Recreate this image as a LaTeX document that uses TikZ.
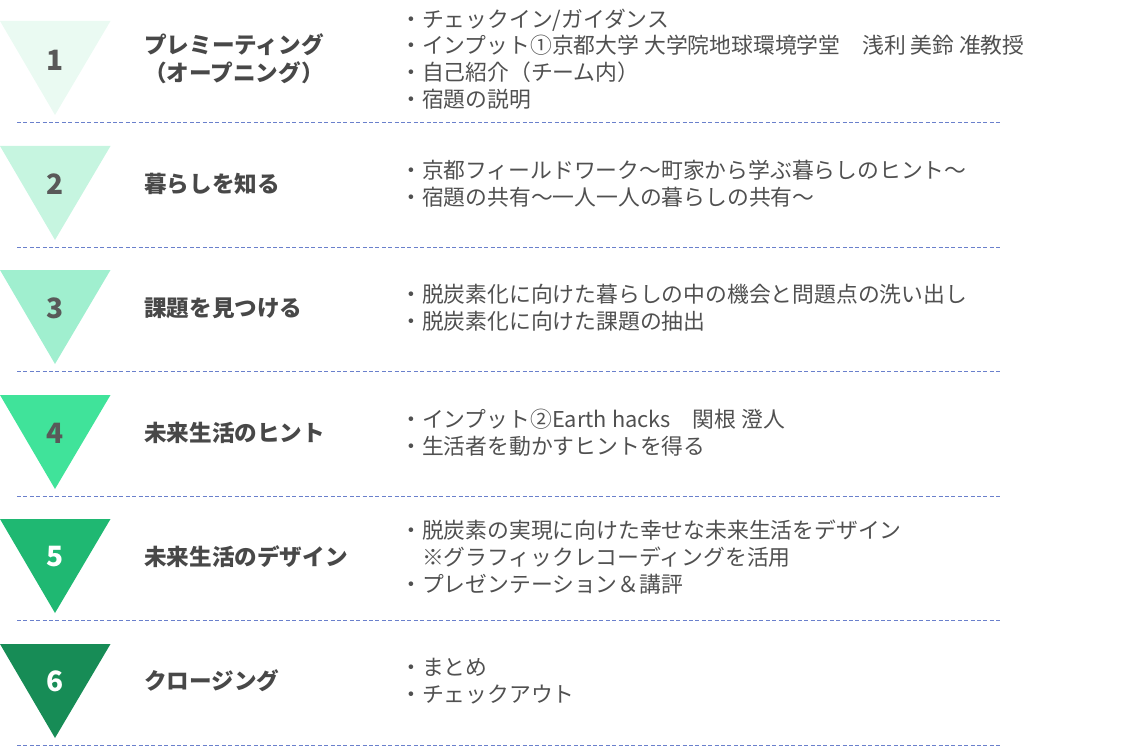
\documentclass[tikz,border=0pt]{standalone}
\usepackage{fontspec}
\setmainfont{Noto Sans CJK JP}

\definecolor{triA}{HTML}{EAFAF2}
\definecolor{triB}{HTML}{C6F5E0}
\definecolor{triC}{HTML}{A0EFCF}
\definecolor{triD}{HTML}{40E39A}
\definecolor{triE}{HTML}{1FB872}
\definecolor{triF}{HTML}{178C56}
\definecolor{numgray}{HTML}{595959}
\definecolor{titlegray}{HTML}{484848}
\definecolor{descgray}{HTML}{505050}
\definecolor{sepblue}{HTML}{6A80CC}

\tikzset{
  stepnum/.style={inner sep=0pt, text=numgray, font=\bfseries\fontsize{28}{28}\selectfont},
  steptitle/.style={anchor=west, align=left, inner sep=0pt, text=titlegray,
    font=\bfseries\fontsize{22.6}{28}\selectfont},
  stepdesc/.style={anchor=west, align=left, inner sep=0pt, text=descgray,
    font=\fontsize{21.8}{26.7}\selectfont},
  rowsep/.style={draw=sepblue, line width=0.9pt, dash pattern=on 4pt off 2.4pt}
}

\begin{document}
\begin{tikzpicture}[x=1pt, y=-1pt]
  \useasboundingbox (0,0) rectangle (1129,746);

  % Step 1
  \fill[triA] (0,21) -- (110.5,21) -- (55,115) -- cycle;
  \node[stepnum] (n1) at (55,60) {1};
  \node[steptitle] (t1) at (144,59) {プレミーティング\\（オープニング）};
  \node[stepdesc] (d1) at (400,59) {・チェックイン/ガイダンス\\・インプット①京都大学 大学院地球環境学堂　浅利 美鈴 准教授\\・自己紹介（チーム内）\\・宿題の説明};
  \draw[rowsep] (17,122) -- (1002,122);

  % Step 2
  \fill[triB] (0,146) -- (110.5,146) -- (55,240) -- cycle;
  \node[stepnum] (n2) at (55,184) {2};
  \node[steptitle] (t2) at (144,184) {暮らしを知る};
  \node[stepdesc] (d2) at (400,184) {・京都フィールドワーク〜町家から学ぶ暮らしのヒント〜\\・宿題の共有〜一人一人の暮らしの共有〜};
  \draw[rowsep] (17,247) -- (1002,247);

  % Step 3
  \fill[triC] (0,270) -- (110.5,270) -- (55,364) -- cycle;
  \node[stepnum] (n3) at (55,308) {3};
  \node[steptitle] (t3) at (144,308) {課題を見つける};
  \node[stepdesc] (d3) at (400,308) {・脱炭素化に向けた暮らしの中の機会と問題点の洗い出し\\・脱炭素化に向けた課題の抽出};
  \draw[rowsep] (17,371) -- (1002,371);

  % Step 4
  \fill[triD] (0,395) -- (110.5,395) -- (55,489) -- cycle;
  \node[stepnum] (n4) at (55,433) {4};
  \node[steptitle] (t4) at (144,433) {未来生活のヒント};
  \node[stepdesc] (d4) at (400,433) {・インプット②Earth hacks　関根 澄人\\・生活者を動かすヒントを得る};
  \draw[rowsep] (17,496) -- (1002,496);

  % Step 5
  \fill[triE] (0,519) -- (110.5,519) -- (55,613) -- cycle;
  \node[stepnum, text=white] (n5) at (55,557) {5};
  \node[steptitle] (t5) at (144,557) {未来生活のデザイン};
  \node[stepdesc] (d5) at (400,557) {・脱炭素の実現に向けた幸せな未来生活をデザイン\\　※グラフィックレコーディングを活用\\・プレゼンテーション＆講評};
  \draw[rowsep] (17,620) -- (1002,620);

  % Step 6
  \fill[triF] (0,644) -- (110.5,644) -- (55,738) -- cycle;
  \node[stepnum, text=white] (n6) at (55,681) {6};
  \node[steptitle] (t6) at (144,681) {クロージング};
  \node[stepdesc] (d6) at (400,681) {・まとめ\\・チェックアウト};
  \draw[rowsep] (17,745) -- (1002,745);
\end{tikzpicture}
\end{document}
